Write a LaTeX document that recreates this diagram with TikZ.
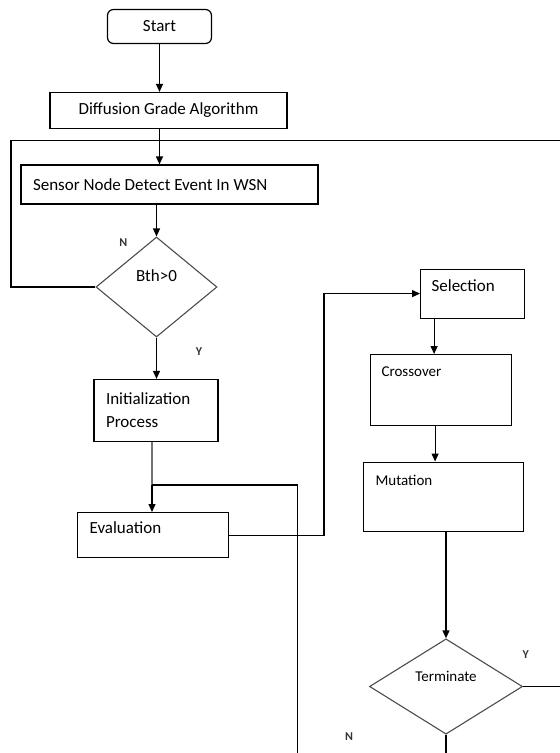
\documentclass[tikz,border=0pt]{standalone}
\usepackage{fontspec}
\setmainfont{Carlito}
\usepackage{tikz}
\usetikzlibrary{arrows.meta,positioning,shapes.geometric}

\begin{document}
\begin{tikzpicture}[
  x=1pt, y=-1pt,
  font=\fontsize{17}{23}\selectfont,
  box/.style={draw, line width=1.2pt, align=flush left, inner xsep=12pt},
  tbox/.style={box, anchor=north west, text height=12pt},
  startbox/.style={draw, line width=1.2pt, rounded corners=6pt, minimum width=104pt, minimum height=34pt},
  dec/.style={draw=black!70, line width=1.1pt, diamond, inner sep=0pt, text height=12pt},
  smalltext/.style={font=\fontsize{15}{18}\selectfont},
  yn/.style={font=\fontsize{12}{14}\selectfont\bfseries, text=black!80, inner sep=0pt},
  line/.style={line width=1.2pt},
  arrow/.style={line width=1.2pt, -{Triangle[length=8pt, width=7pt]}}
]
\useasboundingbox (0,0) rectangle (560,753);

\node[startbox] (start) at (159.5,26.5) {Start};
\node[box, minimum width=237pt, minimum height=36pt] (diffusion) at (168.5,110.5) {Diffusion Grade Algorithm};
\node[box, text width=273pt, minimum height=39pt] (sensor) at (169.5,184.5) {Sensor Node Detect Event In WSN};
\node[dec, minimum width=121pt, minimum height=100pt, text depth=23pt] (bth) at (156.5,287) {Bth>0};
\node[box, text width=100pt, minimum height=62pt] (init) at (156,410.5) {Initialization\\Process};
\node[tbox, text width=127pt, inner ysep=8.5pt, text depth=16pt] (eval) at (77,512) {Evaluation};

\node[tbox, inner xsep=11pt, text width=82pt, inner ysep=10pt, text depth=17pt] (sel) at (420,268.5) {Selection};
\node[tbox, smalltext, inner xsep=11pt, text width=119pt, inner ysep=9.7pt, text depth=39.6pt] (cross) at (370,354) {Crossover};
\node[tbox, smalltext, text width=136pt, inner ysep=11.5pt, text depth=34pt] (mut) at (363,461.5) {Mutation};
\node[dec, smalltext, minimum width=153pt, minimum height=91pt, text depth=22pt] (term) at (446,686.5) {Terminate};

\node[yn] (bthno) at (123.3,242.3) {N};
\node[yn] (bthyes) at (199,352) {Y};
\node[yn] (termyes) at (525.7,655) {Y};
\node[yn] (termno) at (349,736.7) {N};

\coordinate (loopleft) at (11,140.5);
\coordinate (loopright) at (560,140.5);
\coordinate (evaljoin) at (152,485);
\coordinate (backdown) at (297.5,753);
\coordinate (gaturn) at (324,400);
\coordinate (termright) at (560,686.5);
\coordinate (termdown) at (446,753);

\draw[arrow] (start.south) -- (start.south |- diffusion.north);
\draw[arrow] (diffusion.south -| start.south) -- (sensor.north -| start.south);
\draw[arrow] (sensor.south -| bth.north) -- (bth.north);
\draw[line] (bth.west) -| (loopleft) -- (loopright);
\draw[arrow] (bth.south) -- (bth.south |- init.north);
\draw[line, draw=black!55] (init.south -| evaljoin) -- (evaljoin);
\draw[arrow] (evaljoin) -- (evaljoin |- eval.north);
\draw[line] (evaljoin) -| (backdown);
\draw[arrow] (eval.east) -| (gaturn) |- (sel.west);
\draw[arrow] ([xshift=-7pt]cross.north |- sel.south) -- ([xshift=-7pt]cross.north);
\draw[arrow] ([xshift=-6pt]cross.south) -- ([xshift=-6pt]cross.south |- mut.north);
\draw[arrow] (mut.south -| term.north) -- (term.north);
\draw[line] (term.east) -- (termright);
\draw[line] (term.south) -- (termdown);
\end{tikzpicture}
\end{document}
